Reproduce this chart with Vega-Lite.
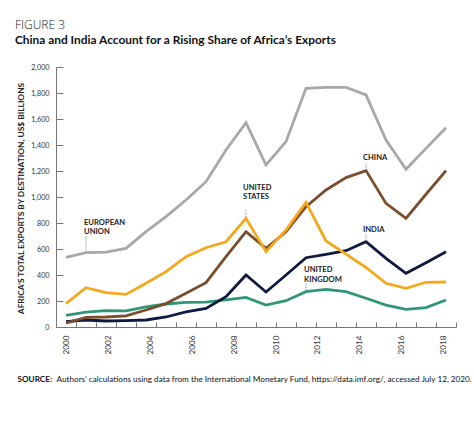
{
  "$schema": "https://vega.github.io/schema/vega-lite/v6.json",
  "width": 400,
  "height": 260,
  "autosize": {"type": "none"},
  "padding": {"left": 56, "top": 67, "right": 18, "bottom": 97},
  "background": "white",
  "config": {"view": {"stroke": null}, "font": "Lato", "axisY": {"labelOverlap": false}},
  "title": {
    "text": "FIGURE 3",
    "subtitle": "China and India Account for a Rising Share of Africa’s Exports",
    "anchor": "start",
    "frame": "group",
    "dx": -41,
    "offset": 16,
    "font": "Open Sans",
    "fontSize": 12,
    "fontWeight": 300,
    "color": "#222222",
    "subtitleFont": "Lato",
    "subtitleFontSize": 11.9,
    "subtitleFontWeight": "bold",
    "subtitleColor": "#111111",
    "subtitlePadding": 3
  },
  "datasets": {
    "exports": [
      {"series": "European Union", "year": 1999, "value": 536},
      {"series": "European Union", "year": 2000, "value": 572},
      {"series": "European Union", "year": 2001, "value": 576},
      {"series": "European Union", "year": 2002, "value": 605},
      {"series": "European Union", "year": 2003, "value": 733},
      {"series": "European Union", "year": 2004, "value": 849},
      {"series": "European Union", "year": 2005, "value": 977},
      {"series": "European Union", "year": 2006, "value": 1118},
      {"series": "European Union", "year": 2007, "value": 1362},
      {"series": "European Union", "year": 2008, "value": 1572},
      {"series": "European Union", "year": 2009, "value": 1246},
      {"series": "European Union", "year": 2010, "value": 1426},
      {"series": "European Union", "year": 2011, "value": 1836},
      {"series": "European Union", "year": 2012, "value": 1844},
      {"series": "European Union", "year": 2013, "value": 1844},
      {"series": "European Union", "year": 2014, "value": 1785},
      {"series": "European Union", "year": 2015, "value": 1438},
      {"series": "European Union", "year": 2016, "value": 1213},
      {"series": "European Union", "year": 2017, "value": 1374},
      {"series": "European Union", "year": 2018, "value": 1533},
      {"series": "United Kingdom", "year": 1999, "value": 90},
      {"series": "United Kingdom", "year": 2000, "value": 115},
      {"series": "United Kingdom", "year": 2001, "value": 126},
      {"series": "United Kingdom", "year": 2002, "value": 124},
      {"series": "United Kingdom", "year": 2003, "value": 155},
      {"series": "United Kingdom", "year": 2004, "value": 177},
      {"series": "United Kingdom", "year": 2005, "value": 190},
      {"series": "United Kingdom", "year": 2006, "value": 192},
      {"series": "United Kingdom", "year": 2007, "value": 208},
      {"series": "United Kingdom", "year": 2008, "value": 228},
      {"series": "United Kingdom", "year": 2009, "value": 169},
      {"series": "United Kingdom", "year": 2010, "value": 202},
      {"series": "United Kingdom", "year": 2011, "value": 272},
      {"series": "United Kingdom", "year": 2012, "value": 290},
      {"series": "United Kingdom", "year": 2013, "value": 272},
      {"series": "United Kingdom", "year": 2014, "value": 221},
      {"series": "United Kingdom", "year": 2015, "value": 169},
      {"series": "United Kingdom", "year": 2016, "value": 136},
      {"series": "United Kingdom", "year": 2017, "value": 149},
      {"series": "United Kingdom", "year": 2018, "value": 208},
      {"series": "India", "year": 1999, "value": 41},
      {"series": "India", "year": 2000, "value": 54},
      {"series": "India", "year": 2001, "value": 46},
      {"series": "India", "year": 2002, "value": 49},
      {"series": "India", "year": 2003, "value": 54},
      {"series": "India", "year": 2004, "value": 77},
      {"series": "India", "year": 2005, "value": 117},
      {"series": "India", "year": 2006, "value": 143},
      {"series": "India", "year": 2007, "value": 233},
      {"series": "India", "year": 2008, "value": 400},
      {"series": "India", "year": 2009, "value": 269},
      {"series": "India", "year": 2010, "value": 400},
      {"series": "India", "year": 2011, "value": 533},
      {"series": "India", "year": 2012, "value": 559},
      {"series": "India", "year": 2013, "value": 587},
      {"series": "India", "year": 2014, "value": 656},
      {"series": "India", "year": 2015, "value": 528},
      {"series": "India", "year": 2016, "value": 413},
      {"series": "India", "year": 2017, "value": 495},
      {"series": "India", "year": 2018, "value": 579},
      {"series": "China", "year": 1999, "value": 30},
      {"series": "China", "year": 2000, "value": 74},
      {"series": "China", "year": 2001, "value": 77},
      {"series": "China", "year": 2002, "value": 85},
      {"series": "China", "year": 2003, "value": 131},
      {"series": "China", "year": 2004, "value": 180},
      {"series": "China", "year": 2005, "value": 259},
      {"series": "China", "year": 2006, "value": 341},
      {"series": "China", "year": 2007, "value": 541},
      {"series": "China", "year": 2008, "value": 733},
      {"series": "China", "year": 2009, "value": 605},
      {"series": "China", "year": 2010, "value": 733},
      {"series": "China", "year": 2011, "value": 926},
      {"series": "China", "year": 2012, "value": 1054},
      {"series": "China", "year": 2013, "value": 1149},
      {"series": "China", "year": 2014, "value": 1203},
      {"series": "China", "year": 2015, "value": 951},
      {"series": "China", "year": 2016, "value": 836},
      {"series": "China", "year": 2017, "value": 1021},
      {"series": "China", "year": 2018, "value": 1203},
      {"series": "United States", "year": 1999, "value": 180},
      {"series": "United States", "year": 2000, "value": 302},
      {"series": "United States", "year": 2001, "value": 264},
      {"series": "United States", "year": 2002, "value": 251},
      {"series": "United States", "year": 2003, "value": 336},
      {"series": "United States", "year": 2004, "value": 426},
      {"series": "United States", "year": 2005, "value": 541},
      {"series": "United States", "year": 2006, "value": 610},
      {"series": "United States", "year": 2007, "value": 656},
      {"series": "United States", "year": 2008, "value": 836},
      {"series": "United States", "year": 2009, "value": 579},
      {"series": "United States", "year": 2010, "value": 746},
      {"series": "United States", "year": 2011, "value": 959},
      {"series": "United States", "year": 2012, "value": 662},
      {"series": "United States", "year": 2013, "value": 560},
      {"series": "United States", "year": 2014, "value": 458},
      {"series": "United States", "year": 2015, "value": 336},
      {"series": "United States", "year": 2016, "value": 298},
      {"series": "United States", "year": 2017, "value": 344},
      {"series": "United States", "year": 2018, "value": 346}
    ]
  },
  "data": {"name": "exports"},
  "resolve": {"axis": {"x": "independent"}},
  "encoding": {
    "y": {
      "field": "value", "type": "quantitative",
      "scale": {"domain": [0, 2000], "nice": false},
      "axis": {
        "values": [0, 200, 400, 600, 800, 1000, 1200, 1400, 1600, 1800, 2000],
        "format": ",d", "tickSize": -7, "tickColor": "#777777", "domainColor": "#777777",
        "labelFontSize": 7.2, "labelColor": "#333333", "labelPadding": 14, "labelOverlap": false, "grid": false,
        "title": "AFRICA’S TOTAL EXPORTS BY DESTINATION, US$ BILLIONS",
        "titleFont": "Lato", "titleFontWeight": "bold", "titleFontSize": 8.4, "titleColor": "#222222",
        "titleX": -36, "titleY": 131, "titleAngle": 270, "titleAlign": "center", "titleBaseline": "middle"
      }
    }
  },
  "layer": [
    {
      "mark": {"type": "line", "strokeWidth": 2.8, "strokeJoin": "miter", "strokeCap": "butt"},
      "encoding": {
        "x": {
          "field": "year", "type": "quantitative",
          "scale": {"domain": [1998.5, 2018.5], "nice": false, "zero": false},
          "axis": {
            "orient": "bottom",
            "values": [1998.5, 1999.5, 2000.5, 2001.5, 2002.5, 2003.5, 2004.5, 2005.5, 2006.5, 2007.5, 2008.5, 2009.5, 2010.5, 2011.5, 2012.5, 2013.5, 2014.5, 2015.5, 2016.5, 2017.5, 2018.5],
            "labels": false, "ticks": true, "tickSize": -5, "tickColor": "#777777", "tickWidth": 1,
            "domainColor": "#777777", "domainWidth": 1, "grid": false,
            "title": "SOURCE:", "titleFont": "Lato", "titleFontWeight": "bold", "titleFontSize": 8.2, "titleColor": "#111111",
            "titleX": -39, "titleY": 54, "titleAlign": "left", "titleBaseline": "alphabetic", "titleAngle": 0
          }
        },
        "color": {
          "field": "series", "type": "nominal",
          "scale": {
            "domain": ["European Union", "United Kingdom", "India", "China", "United States"],
            "range": ["#A6A8AB", "#2F9778", "#0E1A3F", "#7A4E2D", "#F6A81C"]
          },
          "legend": null
        }
      }
    },
    {
      "transform": [{"filter": "datum.series === 'European Union' && datum.year === 2000"}],
      "mark": {"type": "text", "text": ["EUROPEAN", "UNION"], "align": "left", "baseline": "alphabetic", "dx": -2, "dy": -27.6, "lineHeight": 8.5, "font": "Lato", "fontSize": 7.6, "fontWeight": "bold", "color": "#222222"},
      "encoding": {
        "x": {
          "field": "year", "type": "quantitative",
          "axis": {
            "orient": "bottom",
            "values": [1999.04, 2001.13, 2003.22, 2005.31, 2007.41, 2009.5, 2011.59, 2013.68, 2015.77, 2017.87],
            "labelExpr": "'' + (2000 + 2 * round((datum.value - 1999.04) / 2.092))",
            "ticks": false, "domain": false, "grid": false,
            "labelAngle": -90, "labelAlign": "right", "labelBaseline": "middle", "labelPadding": 8,
            "labelFontSize": 8.2, "labelColor": "#333333", "labelOverlap": false, "labelFlush": false,
            "title": "Authors’ calculations using data from the International Monetary Fund, https://data.imf.org/, accessed July 12, 2020.",
            "titleFont": "Lato", "titleFontWeight": "normal", "titleFontSize": 8.2, "titleColor": "#111111",
            "titleX": 0, "titleY": 54, "titleAlign": "left", "titleBaseline": "alphabetic", "titleAngle": 0
          }
        }
      }
    },
    {
      "transform": [{"filter": "datum.series === 'European Union' && datum.year === 2000"}],
      "mark": {"type": "rule", "strokeDash": [1, 1], "strokeWidth": 1, "color": "#888888", "yOffset": -1, "y2Offset": -16.5},
      "encoding": {
        "x": {"field": "year", "type": "quantitative", "axis": null},
        "y2": {"field": "value"}
      }
    },
    {
      "transform": [{"filter": "datum.series === 'United States' && datum.year === 2008"}],
      "mark": {"type": "text", "text": ["UNITED", "STATES"], "align": "left", "baseline": "alphabetic", "dx": -3, "dy": -28, "lineHeight": 8.5, "font": "Lato", "fontSize": 7.6, "fontWeight": "bold", "color": "#222222"},
      "encoding": {
        "x": {"field": "year", "type": "quantitative", "axis": null}
      }
    },
    {
      "transform": [{"filter": "datum.series === 'United States' && datum.year === 2008"}],
      "mark": {"type": "rule", "strokeDash": [1, 1], "strokeWidth": 1, "color": "#888888", "yOffset": -1.6, "y2Offset": -9.3},
      "encoding": {
        "x": {"field": "year", "type": "quantitative", "axis": null},
        "y2": {"field": "value"}
      }
    },
    {
      "transform": [{"filter": "datum.series === 'China' && datum.year === 2014"}],
      "mark": {"type": "text", "text": "CHINA", "align": "left", "baseline": "alphabetic", "dx": -3, "dy": -10.7, "font": "Lato", "fontSize": 7.6, "fontWeight": "bold", "color": "#222222"},
      "encoding": {
        "x": {"field": "year", "type": "quantitative", "axis": null}
      }
    },
    {
      "transform": [{"filter": "datum.series === 'China' && datum.year === 2014"}],
      "mark": {"type": "rule", "strokeDash": [1, 1], "strokeWidth": 1, "color": "#888888", "yOffset": -0.7, "y2Offset": -7.4},
      "encoding": {
        "x": {"field": "year", "type": "quantitative", "axis": null},
        "y2": {"field": "value"}
      }
    },
    {
      "transform": [{"filter": "datum.series === 'India' && datum.year === 2014"}],
      "mark": {"type": "text", "text": "INDIA", "align": "left", "baseline": "alphabetic", "dx": -3, "dy": -10, "font": "Lato", "fontSize": 7.6, "fontWeight": "bold", "color": "#222222"},
      "encoding": {
        "x": {"field": "year", "type": "quantitative", "axis": null}
      }
    },
    {
      "transform": [{"filter": "datum.series === 'India' && datum.year === 2014"}],
      "mark": {"type": "rule", "strokeDash": [1, 1], "strokeWidth": 1, "color": "#888888", "yOffset": -1, "y2Offset": -7.7},
      "encoding": {
        "x": {"field": "year", "type": "quantitative", "axis": null},
        "y2": {"field": "value"}
      }
    },
    {
      "transform": [{"filter": "datum.series === 'United Kingdom' && datum.year === 2011"}],
      "mark": {"type": "text", "text": ["UNITED", "KINGDOM"], "align": "left", "baseline": "alphabetic", "dx": -2, "dy": -19.4, "lineHeight": 9.4, "font": "Lato", "fontSize": 7.6, "fontWeight": "bold", "color": "#222222"},
      "encoding": {
        "x": {"field": "year", "type": "quantitative", "axis": null}
      }
    },
    {
      "transform": [{"filter": "datum.series === 'United Kingdom' && datum.year === 2011"}],
      "mark": {"type": "rule", "strokeDash": [1, 1], "strokeWidth": 1, "color": "#888888", "yOffset": -1.7, "y2Offset": -8.4},
      "encoding": {
        "x": {"field": "year", "type": "quantitative", "axis": null},
        "y2": {"field": "value"}
      }
    }
  ]
}
